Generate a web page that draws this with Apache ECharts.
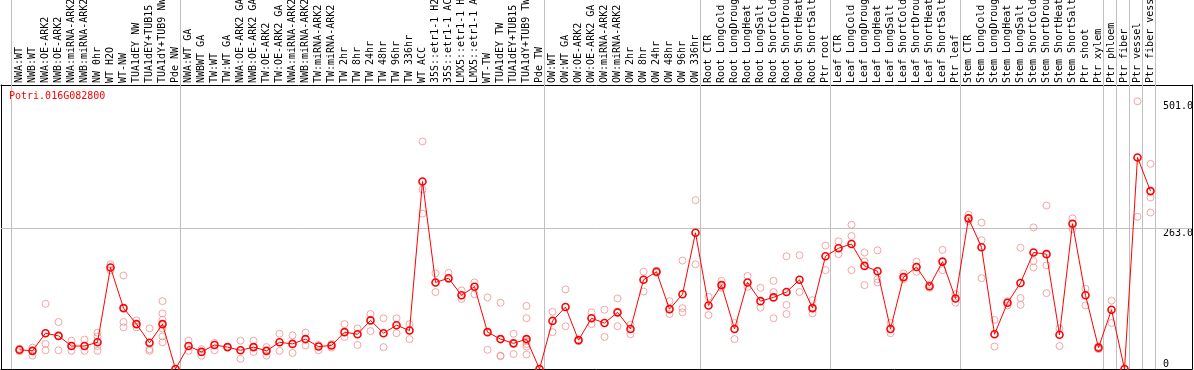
<!DOCTYPE html>
<html><head><meta charset="utf-8">
<script src="https://cdn.jsdelivr.net/npm/echarts@6/dist/echarts.min.js"></script>
<style>html,body{margin:0;padding:0;background:#fff}#c{width:1194px;height:370px}</style>
</head><body><div id="c"></div>
<script>
const geneName = 'Potri.016G082800';

const categories = [
  'NWA:WT','NWB:WT','NWA:OE-ARK2','NWB:OE-ARK2','NWA:miRNA-ARK2','NWB:miRNA-ARK2','NW 0hr','WT H2O','WT-NW','TUA1dEY NW','TUA1dEY+TUB15','TUA1dY+TUB9 NW','Pde NW',
  'NWA:WT GA','NWBWT GA','TW:WT','TW:WT GA','NWA:OE-ARK2 GA','NWB:OE-ARK2 GA','TW:OE-ARK2','TW:OE-ARK2 GA','NWA:miRNA-ARK2','NWB:miRNA-ARK2','TW:miRNA-ARK2','TW:miRNA-ARK2','TW 2hr','TW 8hr','TW 24hr','TW 48hr','TW 96hr','TW 336hr','WT ACC','35S::etr1-1 H2','35S::etr1-1 AC','LMX5::etr1-1 H','LMX5::etr1-1 A','WT-TW','TUA1dEY TW','TUA1dEY+TUB15','TUA1dY+TUB9 TW','Pde TW',
  'OW:WT','OW:WT GA','OW:OE-ARK2','OW:OE-ARK2 GA','OW:miRNA-ARK2','OW:miRNA-ARK2','OW 2hr','OW 8hr','OW 24hr','OW 48hr','OW 96hr','OW 336hr',
  'Root CTR','Root LongCold','Root LongDroug','Root LongHeat','Root LongSalt','Root ShortCold','Root ShortDrou','Root ShortHeat','Root ShortSalt','Ptr root',
  'Leaf CTR','Leaf LongCold','Leaf LongDroug','Leaf LongHeat','Leaf LongSalt','Leaf ShortCold','Leaf ShortDrou','Leaf ShortHeat','Leaf ShortSalt','Ptr leaf',
  'Stem CTR','Stem LongCold','Stem LongDroug','Stem LongHeat','Stem LongSalt','Stem ShortCold','Stem ShortDrou','Stem ShortHeat','Stem ShortSalt','Ptr shoot','Ptr xylem',
  'Ptr phloem','Ptr fiber','Ptr vessel','Ptr fiber vess'
];

const groupSizes = [13, 28, 12, 10, 10, 11, 1, 1, 1, 1];

const means = [
  36,34,67,62,43,43,50,190,114,84,49,84,0,
  43,32,45,41,35,41,34,50,47,56,42,44,69,65,91,67,82,72,351,162,170,138,154,69,56,48,56,0,
  90,116,54,95,86,106,75,167,182,112,140,255,
  119,157,75,162,127,134,144,167,114,211,
  226,234,193,183,75,172,191,155,201,132,
  282,228,65,124,161,218,215,64,272,138,40,
  111,0,396,333
];

const replicates = [
  [38,33,36],[40,25,34],[122,47,35],[88,35,62],[53,43,34],[55,43,34],[68,61,43,34],[196,185],[175,88,78],[91,78],[76,37,34],[127,104,92,76,61,50],[0],
  [53,34],[37,25],[49,35],[41],[53,19],[53,32],[41,25],[66,34],[63,30],[68,44],[45,35],[47,40],[84,60],[76,45],[103,71],[95,41],[95,67],[84,56],[426,336,291],[179,144],[180,168],[147,131],[162,140],[134,36],[124,25,24],[66,28],[118,95,52,47,42,27],[0],
  [107,69],[149,80],[55,52],[106,84],[111,60],[132,80],[83,65],[182,145],[184,180],[127,103],[203,114,106],[316,196],
  [135,101],[165,152],[86,56],[174,154],[152,115],[165,144,95],[211,120,103],[213,144],[129,104],[231,185],
  [239,215],[270,249,185],[218,201,157],[222,168,162],[86,67],[179,168],[201,182],[158,152],[223,185],[140,124],
  [289,277],[274,241,170],[92,42],[127,119],[227,133,120],[265,202,190],[306,194,142],[76,43],[282,262],[150,119],[42,37],
  [128,86],[0],[501,285],[384,321,293]
];

const yTickLabels = [0, 263, 501];

// ---- layout / style ----
const FONT = 'DejaVu Sans Mono';
const GRID = {left: 1, right: 2, top: 85, bottom: 1};
const X_MIN = -1.4231, X_MAX = 90.1923;
const Y_MAX = 531.6;
const SEP_OFFSET = 0.615;
const GRAY = '#c0c0c0';

const separators = [];
let acc = 0;
separators.push(acc - SEP_OFFSET);
groupSizes.forEach(s => { acc += s; separators.push(acc - SEP_OFFSET); });

const catIdx = categories.map((_, i) => i);
const meanData = means.map((v, i) => [i, v]);
const repData = [];
replicates.forEach((arr, i) => arr.forEach(v => repData.push([i, v])));

const chart = echarts.init(document.getElementById('c'), null, {renderer: 'canvas'});
chart.setOption({
  animation: false,
  backgroundColor: '#fff',
  title: {
    text: geneName, left: 9, top: 91, padding: 0,
    textStyle: {color: '#ff0000', fontSize: 10, fontWeight: 'normal', fontFamily: FONT}
  },
  grid: Object.assign({containLabel: false, outerBoundsMode: 'none'}, GRID),
  xAxis: [
    {
      type: 'value', position: 'top', min: X_MIN, max: X_MAX,
      axisLine: {show: true, onZero: false, lineStyle: {color: '#000', width: 1}},
      axisTick: {show: true, customValues: separators, length: 85, inside: false, lineStyle: {color: GRAY, width: 1}},
      axisLabel: {
        show: true, customValues: catIdx, rotate: -90, margin: 2,
        align: 'left', verticalAlign: 'middle',
        formatter: v => categories[Math.round(v)] || '',
        color: '#000', fontSize: 10, fontFamily: FONT
      },
      splitLine: {show: false}
    },
    {
      type: 'value', position: 'bottom', min: X_MIN, max: X_MAX,
      axisLine: {show: true, onZero: false, lineStyle: {color: '#000', width: 1}},
      axisTick: {show: false}, axisLabel: {show: false}, splitLine: {show: false}
    }
  ],
  yAxis: [
    {
      type: 'value', position: 'right', min: 0, max: Y_MAX,
      axisLine: {show: true, onZero: false, lineStyle: {color: '#000', width: 1}},
      axisTick: {show: false}, splitLine: {show: false},
      axisLabel: {
        inside: true, customValues: yTickLabels.filter(v => v > 0),
        formatter: v => v.toFixed(1), align: 'left', verticalAlign: 'top', margin: 29,
        color: '#000', fontSize: 10, fontFamily: FONT
      }
    },
    {
      type: 'value', position: 'right', min: 0, max: Y_MAX,
      axisLine: {show: false, onZero: false}, axisTick: {show: false}, splitLine: {show: false},
      axisLabel: {
        inside: true, customValues: yTickLabels.filter(v => v === 0),
        formatter: v => String(v), align: 'left', verticalAlign: 'bottom', margin: 29,
        color: '#000', fontSize: 10, fontFamily: FONT
      }
    },
    {
      type: 'value', position: 'left', min: 0, max: Y_MAX,
      axisLine: {show: true, onZero: false, lineStyle: {color: '#000', width: 1}},
      axisTick: {show: false}, axisLabel: {show: false}, splitLine: {show: false}
    }
  ],
  series: [
    {
      name: 'guides', type: 'line', data: [], xAxisIndex: 0, yAxisIndex: 0, silent: true,
      markLine: {
        silent: true, symbol: 'none', z: 1, animation: false,
        label: {show: false},
        lineStyle: {color: GRAY, width: 1, type: 'solid'},
        data: separators.map(v => ({xAxis: v})).concat([{yAxis: yTickLabels[1]}])
      }
    },
    {
      name: 'replicates', type: 'scatter', data: repData, xAxisIndex: 0, yAxisIndex: 0,
      symbol: 'circle', symbolSize: 7, z: 3, silent: true,
      itemStyle: {color: 'rgba(0,0,0,0)', borderColor: '#f09090', borderWidth: 1}
    },
    {
      name: 'mean', type: 'line', data: meanData, xAxisIndex: 0, yAxisIndex: 0,
      symbol: 'circle', symbolSize: 7, z: 4, silent: true, showAllSymbol: true,
      lineStyle: {color: '#ff0000', width: 1},
      itemStyle: {color: 'rgba(0,0,0,0)', borderColor: '#ff0000', borderWidth: 1.6}
    }
  ]
});
</script>
</body></html>
